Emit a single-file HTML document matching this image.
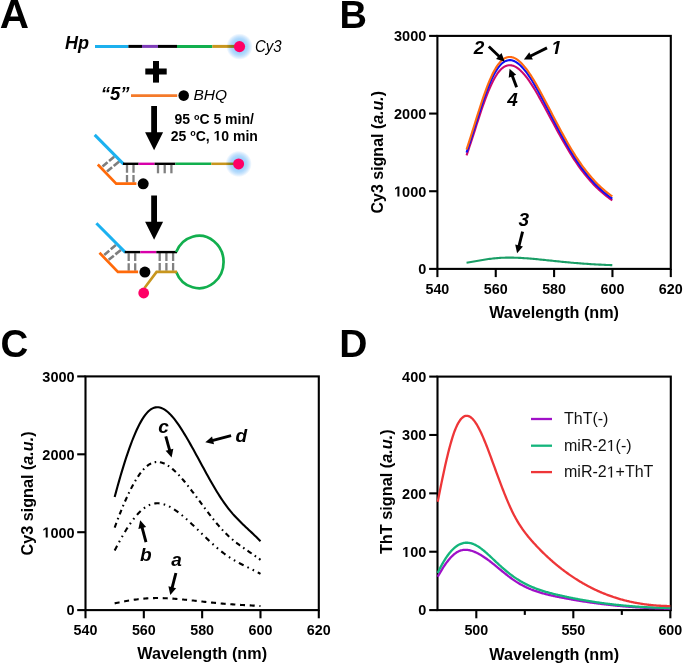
<!DOCTYPE html>
<html><head><meta charset="utf-8"><style>
html,body{margin:0;padding:0;background:#fff;}
body{width:685px;height:664px;overflow:hidden;}
svg{display:block;font-family:"Liberation Sans", sans-serif;}
</style></head><body>
<svg width="685" height="664" viewBox="0 0 685 664">
<defs>
<radialGradient id="glow" cx="0.5" cy="0.5" r="0.5">
<stop offset="0" stop-color="#8CC6FF"/>
<stop offset="0.45" stop-color="#A0D1FC"/>
<stop offset="0.62" stop-color="#B0D9FC"/>
<stop offset="0.78" stop-color="#CDE6FD"/>
<stop offset="0.9" stop-color="#E8F3FE"/>
<stop offset="1" stop-color="#FFFFFF"/>
</radialGradient>
</defs>
<rect width="685" height="664" fill="#fff"/>
<text x="-0.3" y="27.8" font-size="40.5" font-weight="bold">A</text>
<text x="65" y="49.3" font-size="18" font-weight="bold" font-style="italic">Hp</text>
<line x1="95" y1="46.4" x2="128.4" y2="46.4" stroke="#1CB0EE" stroke-width="3"/>
<line x1="128.4" y1="46.4" x2="142" y2="46.4" stroke="#000" stroke-width="3"/>
<line x1="142" y1="46.4" x2="158" y2="46.4" stroke="#7D3CB8" stroke-width="3"/>
<line x1="158" y1="46.4" x2="177" y2="46.4" stroke="#000" stroke-width="3"/>
<line x1="177" y1="46.4" x2="212.3" y2="46.4" stroke="#12AF4E" stroke-width="3"/>
<line x1="212.3" y1="46.4" x2="236" y2="46.4" stroke="#C8961E" stroke-width="3"/>
<circle cx="239.5" cy="46.6" r="13.2" fill="url(#glow)" style="mix-blend-mode:multiply"/>
<circle cx="239.5" cy="46.6" r="5.6" fill="#FF0066"/>
<text x="254.9" y="51.7" font-size="16" font-style="italic" textLength="26.6" lengthAdjust="spacingAndGlyphs">Cy3</text>
<rect x="145.3" y="68.5" width="21.4" height="6" fill="#000"/>
<rect x="153" y="61" width="6" height="21.6" fill="#000"/>
<text x="100.8" y="100.3" font-size="18.5" font-weight="bold" font-style="italic">“5”</text>
<line x1="131" y1="95.6" x2="177.2" y2="95.6" stroke="#F47A2A" stroke-width="2.6"/>
<circle cx="183.7" cy="95.6" r="5.3" fill="#000"/>
<text x="193.5" y="99.6" font-size="15.5" font-style="italic">BHQ</text>
<path d="M151.2,106 L157.0,106 L157.0,132.2 L163.1,132.2 L154.1,150.2 L145.1,132.2 L151.2,132.2 Z" fill="#000"/>
<path d="M151.2,195.6 L157.0,195.6 L157.0,221.8 L163.1,221.8 L154.1,239.8 L145.1,221.8 L151.2,221.8 Z" fill="#000"/>
<text font-size="14" font-weight="bold" text-anchor="middle"><tspan x="214.2" y="124.1">95 <tspan font-size="9" dy="-4.3">o</tspan><tspan dy="4.3">C 5 min/</tspan></tspan></text>
<text font-size="14" font-weight="bold" text-anchor="middle"><tspan x="214.3" y="140.6">25 <tspan font-size="9" dy="-4.3">o</tspan><tspan dy="4.3">C, <tspan class="one" fill="transparent">1</tspan>0 min</tspan></tspan></text>
<g transform="translate(0,0)"><line x1="102.5" y1="166.6" x2="114.2" y2="156.7" stroke="#7E7E7E" stroke-width="2.6" stroke-dasharray="6.6 2 8"/><line x1="107" y1="171.5" x2="119.2" y2="161.6" stroke="#7E7E7E" stroke-width="2.6" stroke-dasharray="6.6 2 8"/><line x1="127" y1="164.9" x2="127" y2="182.4" stroke="#808080" stroke-width="2.3" stroke-dasharray="7.8 2.2 9"/><line x1="133.5" y1="164.9" x2="133.5" y2="182.4" stroke="#808080" stroke-width="2.3" stroke-dasharray="7.8 2.2 9"/><line x1="94.7" y1="134.9" x2="123.6" y2="164.1" stroke="#1BB1F0" stroke-width="3"/><line x1="123" y1="163.8" x2="138.6" y2="163.8" stroke="#000" stroke-width="2.4"/><line x1="138.6" y1="163.8" x2="154.6" y2="163.8" stroke="#D800AA" stroke-width="2.4"/><polyline points="97.8,164.5 116.2,183.6 136.4,183.6" fill="none" stroke="#FF6A0A" stroke-width="2.7"/><circle cx="143.2" cy="183.8" r="5.5" fill="#000"/></g>
<line x1="154.6" y1="163.8" x2="175.4" y2="163.8" stroke="#000" stroke-width="2.4"/>
<line x1="158" y1="164.9" x2="158" y2="173.3" stroke="#808080" stroke-width="2.3"/>
<line x1="164.7" y1="164.9" x2="164.7" y2="173.3" stroke="#808080" stroke-width="2.3"/>
<line x1="171.4" y1="164.9" x2="171.4" y2="173.3" stroke="#808080" stroke-width="2.3"/>
<line x1="175.4" y1="163.8" x2="211.3" y2="163.8" stroke="#12AF4E" stroke-width="2.5"/>
<line x1="211.3" y1="163.8" x2="235" y2="163.8" stroke="#C8961E" stroke-width="2.5"/>
<circle cx="238.6" cy="163.9" r="13.2" fill="url(#glow)" style="mix-blend-mode:multiply"/>
<circle cx="238.6" cy="163.9" r="5.5" fill="#FF0066"/>
<g transform="translate(1.7,88.3)"><line x1="102.5" y1="166.6" x2="114.2" y2="156.7" stroke="#7E7E7E" stroke-width="2.6" stroke-dasharray="6.6 2 8"/><line x1="107" y1="171.5" x2="119.2" y2="161.6" stroke="#7E7E7E" stroke-width="2.6" stroke-dasharray="6.6 2 8"/><line x1="127" y1="164.9" x2="127" y2="182.4" stroke="#808080" stroke-width="2.3" stroke-dasharray="7.8 2.2 9"/><line x1="133.5" y1="164.9" x2="133.5" y2="182.4" stroke="#808080" stroke-width="2.3" stroke-dasharray="7.8 2.2 9"/><line x1="94.7" y1="134.9" x2="123.6" y2="164.1" stroke="#1BB1F0" stroke-width="3"/><line x1="123" y1="163.8" x2="138.6" y2="163.8" stroke="#000" stroke-width="2.4"/><line x1="138.6" y1="163.8" x2="154.6" y2="163.8" stroke="#D800AA" stroke-width="2.4"/><polyline points="97.8,164.5 116.2,183.6 136.4,183.6" fill="none" stroke="#FF6A0A" stroke-width="2.7"/><circle cx="143.2" cy="183.8" r="5.5" fill="#000"/></g>
<line x1="159.7" y1="253.1" x2="159.7" y2="270.8" stroke="#808080" stroke-width="2.3" stroke-dasharray="7.9 2.1 9"/>
<line x1="166.4" y1="253.1" x2="166.4" y2="270.8" stroke="#808080" stroke-width="2.3" stroke-dasharray="7.9 2.1 9"/>
<line x1="173.1" y1="253.1" x2="173.1" y2="270.8" stroke="#808080" stroke-width="2.3" stroke-dasharray="7.9 2.1 9"/>
<line x1="156.3" y1="252.1" x2="177" y2="252.1" stroke="#000" stroke-width="2.4"/>
<path d="M176.2,252.1 A24.6,26.2 0 1,1 176.2,271.9" fill="none" stroke="#12AF4E" stroke-width="2.7"/>
<polyline points="177,271.9 156.6,271.9 144.5,288" fill="none" stroke="#C8961E" stroke-width="2.6"/>
<circle cx="143.7" cy="293" r="5.4" fill="#FF0066"/>
<text x="339.5" y="27.6" font-size="38" font-weight="bold">B</text>
<rect x="437.4" y="35.9" width="233.4" height="233" fill="none" stroke="#000" stroke-width="2.1"/><line x1="429.1" y1="268.9" x2="437.4" y2="268.9" stroke="#000" stroke-width="2.1"/><line x1="429.1" y1="191.23" x2="437.4" y2="191.23" stroke="#000" stroke-width="2.1"/><line x1="429.1" y1="113.57" x2="437.4" y2="113.57" stroke="#000" stroke-width="2.1"/><line x1="429.1" y1="35.9" x2="437.4" y2="35.9" stroke="#000" stroke-width="2.1"/><line x1="437.4" y1="268.9" x2="437.4" y2="277.1" stroke="#000" stroke-width="2.1"/><line x1="495.75" y1="268.9" x2="495.75" y2="277.1" stroke="#000" stroke-width="2.1"/><line x1="554.1" y1="268.9" x2="554.1" y2="277.1" stroke="#000" stroke-width="2.1"/><line x1="612.45" y1="268.9" x2="612.45" y2="277.1" stroke="#000" stroke-width="2.1"/><line x1="670.8" y1="268.9" x2="670.8" y2="277.1" stroke="#000" stroke-width="2.1"/>
<text x="426.3" y="274.2" font-size="14.5" font-weight="bold" text-anchor="end">0</text><text x="426.3" y="196.53" font-size="14.5" font-weight="bold" text-anchor="end"><tspan class="one" fill="transparent">1</tspan>000</text><text x="426.3" y="118.87" font-size="14.5" font-weight="bold" text-anchor="end">2000</text><text x="426.3" y="41.2" font-size="14.5" font-weight="bold" text-anchor="end">3000</text>
<text x="437.4" y="294.2" font-size="14.3" font-weight="bold" text-anchor="middle">540</text><text x="495.75" y="294.2" font-size="14.3" font-weight="bold" text-anchor="middle">560</text><text x="554.1" y="294.2" font-size="14.3" font-weight="bold" text-anchor="middle">580</text><text x="612.45" y="294.2" font-size="14.3" font-weight="bold" text-anchor="middle">600</text><text x="670.8" y="294.2" font-size="14.3" font-weight="bold" text-anchor="middle">620</text>
<text x="554.1" y="318.3" font-size="16.2" font-weight="bold" text-anchor="middle">Wavelength (nm)</text>
<text transform="translate(382.7,152.2) rotate(-90)" font-size="16" font-weight="bold" text-anchor="middle">Cy3 signal (<tspan font-style="italic">a.u.</tspan>)</text>
<path d="M466.55,262.68L468.01,262.44L469.46,262.2L470.92,261.96L472.38,261.71L473.84,261.45L475.29,261.2L476.75,260.95L478.21,260.7L479.67,260.45L481.12,260.2L482.58,259.96L484.04,259.73L485.5,259.51L486.95,259.29L488.41,259.08L489.87,258.89L491.33,258.71L492.78,258.54L494.24,258.38L495.7,258.24L497.16,258.11L498.62,258L500.07,257.9L501.53,257.82L502.99,257.75L504.44,257.69L505.9,257.65L507.36,257.63L508.82,257.61L510.27,257.61L511.73,257.62L513.19,257.65L514.65,257.68L516.11,257.72L517.56,257.78L519.02,257.84L520.48,257.91L521.93,257.99L523.39,258.08L524.85,258.18L526.31,258.28L527.76,258.39L529.22,258.51L530.68,258.63L532.14,258.76L533.6,258.89L535.05,259.02L536.51,259.16L537.97,259.3L539.42,259.45L540.88,259.6L542.34,259.75L543.8,259.9L545.25,260.05L546.71,260.2L548.17,260.35L549.63,260.51L551.09,260.66L552.54,260.81L554,260.96L555.46,261.11L556.91,261.26L558.37,261.41L559.83,261.56L561.29,261.71L562.75,261.85L564.2,262L565.66,262.14L567.12,262.27L568.58,262.41L570.03,262.54L571.49,262.68L572.95,262.8L574.4,262.93L575.86,263.05L577.32,263.17L578.78,263.29L580.24,263.4L581.69,263.51L583.15,263.62L584.61,263.72L586.06,263.82L587.52,263.92L588.98,264.01L590.44,264.1L591.89,264.19L593.35,264.28L594.81,264.36L596.27,264.44L597.72,264.52L599.18,264.6L600.64,264.67L602.1,264.74L603.55,264.81L605.01,264.87L606.47,264.94L607.93,265L609.38,265.06L610.84,265.11L612.3,265.16" fill="none" stroke="#1A9E66" stroke-width="2.1" stroke-linejoin="round"/>
<path d="M466.55,155.32L468.01,151.08L469.46,146.75L470.92,142.33L472.38,137.85L473.84,133.34L475.29,128.82L476.75,124.3L478.21,119.81L479.67,115.38L481.12,111.03L482.58,106.77L484.04,102.64L485.5,98.65L486.95,94.82L488.41,91.17L489.87,87.72L491.33,84.48L492.78,81.48L494.24,78.72L495.7,76.21L497.16,73.95L498.62,71.96L500.07,70.23L501.53,68.77L502.99,67.58L504.44,66.63L505.9,65.93L507.36,65.46L508.82,65.22L510.27,65.2L511.73,65.39L513.19,65.78L514.65,66.36L516.11,67.13L517.56,68.08L519.02,69.19L520.48,70.46L521.93,71.89L523.39,73.45L524.85,75.15L526.31,76.98L527.76,78.92L529.22,80.97L530.68,83.12L532.14,85.36L533.6,87.68L535.05,90.08L536.51,92.54L537.97,95.06L539.42,97.63L540.88,100.24L542.34,102.89L543.8,105.57L545.25,108.26L546.71,110.98L548.17,113.7L549.63,116.43L551.09,119.15L552.54,121.87L554,124.58L555.46,127.28L556.91,129.96L558.37,132.63L559.83,135.27L561.29,137.89L562.75,140.48L564.2,143.04L565.66,145.56L567.12,148.05L568.58,150.5L570.03,152.91L571.49,155.27L572.95,157.58L574.4,159.84L575.86,162.04L577.32,164.19L578.78,166.28L580.24,168.31L581.69,170.29L583.15,172.21L584.61,174.08L586.06,175.9L587.52,177.67L588.98,179.38L590.44,181.04L591.89,182.65L593.35,184.22L594.81,185.73L596.27,187.19L597.72,188.61L599.18,189.98L600.64,191.3L602.1,192.58L603.55,193.81L605.01,195L606.47,196.14L607.93,197.24L609.38,198.3L610.84,199.32L612.3,200.29" fill="none" stroke="#CC0A6E" stroke-width="2.1" stroke-linejoin="round"/>
<path d="M466.55,152.5L468.01,148.16L469.46,143.71L470.92,139.18L472.38,134.6L473.84,129.97L475.29,125.34L476.75,120.71L478.21,116.11L479.67,111.57L481.12,107.11L482.58,102.75L484.04,98.51L485.5,94.42L486.95,90.5L488.41,86.76L489.87,83.22L491.33,79.9L492.78,76.83L494.24,74L495.7,71.42L497.16,69.11L498.62,67.07L500.07,65.3L501.53,63.8L502.99,62.57L504.44,61.61L505.9,60.89L507.36,60.41L508.82,60.16L510.27,60.14L511.73,60.33L513.19,60.73L514.65,61.33L516.11,62.12L517.56,63.09L519.02,64.23L520.48,65.53L521.93,66.99L523.39,68.6L524.85,70.34L526.31,72.21L527.76,74.2L529.22,76.3L530.68,78.5L532.14,80.8L533.6,83.18L535.05,85.64L536.51,88.16L537.97,90.74L539.42,93.38L540.88,96.05L542.34,98.77L543.8,101.51L545.25,104.27L546.71,107.06L548.17,109.85L549.63,112.64L551.09,115.43L552.54,118.22L554,121L555.46,123.76L556.91,126.51L558.37,129.24L559.83,131.95L561.29,134.64L562.75,137.29L564.2,139.91L565.66,142.5L567.12,145.05L568.58,147.56L570.03,150.03L571.49,152.44L572.95,154.81L574.4,157.13L575.86,159.39L577.32,161.58L578.78,163.73L580.24,165.81L581.69,167.84L583.15,169.81L584.61,171.73L586.06,173.59L587.52,175.4L588.98,177.16L590.44,178.86L591.89,180.51L593.35,182.11L594.81,183.66L596.27,185.17L597.72,186.62L599.18,188.02L600.64,189.38L602.1,190.69L603.55,191.95L605.01,193.17L606.47,194.34L607.93,195.47L609.38,196.55L610.84,197.59L612.3,198.59" fill="none" stroke="#1010F5" stroke-width="2.1" stroke-linejoin="round"/>
<path d="M466.55,149.47L468.01,145.08L469.46,140.59L470.92,136.02L472.38,131.39L473.84,126.73L475.29,122.06L476.75,117.41L478.21,112.79L479.67,108.24L481.12,103.77L482.58,99.4L484.04,95.16L485.5,91.08L486.95,87.16L488.41,83.42L489.87,79.9L491.33,76.59L492.78,73.53L494.24,70.72L495.7,68.16L497.16,65.86L498.62,63.83L500.07,62.07L501.53,60.59L502.99,59.37L504.44,58.41L505.9,57.7L507.36,57.22L508.82,56.98L510.27,56.96L511.73,57.15L513.19,57.55L514.65,58.14L516.11,58.92L517.56,59.88L519.02,61.02L520.48,62.31L521.93,63.76L523.39,65.35L524.85,67.08L526.31,68.94L527.76,70.92L529.22,73.01L530.68,75.2L532.14,77.49L533.6,79.86L535.05,82.31L536.51,84.82L537.97,87.4L539.42,90.03L540.88,92.7L542.34,95.42L543.8,98.16L545.25,100.93L546.71,103.71L548.17,106.51L549.63,109.31L551.09,112.11L552.54,114.91L554,117.7L555.46,120.48L556.91,123.25L558.37,126L559.83,128.72L561.29,131.43L562.75,134.1L564.2,136.75L565.66,139.36L567.12,141.94L568.58,144.48L570.03,146.97L571.49,149.42L572.95,151.81L574.4,154.16L575.86,156.45L577.32,158.68L578.78,160.85L580.24,162.97L581.69,165.03L583.15,167.03L584.61,168.98L586.06,170.87L587.52,172.71L588.98,174.5L590.44,176.23L591.89,177.92L593.35,179.55L594.81,181.13L596.27,182.66L597.72,184.14L599.18,185.57L600.64,186.96L602.1,188.29L603.55,189.58L605.01,190.83L606.47,192.02L607.93,193.18L609.38,194.28L610.84,195.35L612.3,196.37" fill="none" stroke="#FF6A10" stroke-width="2.1" stroke-linejoin="round"/>
<text x="473.8" y="54" font-size="19" font-weight="bold" font-style="italic">2</text>
<text x="551.2" y="54" font-size="19" font-weight="bold" font-style="italic"><tspan class="one" fill="transparent">1</tspan></text>
<text x="507.3" y="106" font-size="19" font-weight="bold" font-style="italic">4</text>
<text x="518.6" y="225.8" font-size="19" font-weight="bold" font-style="italic">3</text>
<line x1="488.8" y1="46.5" x2="499.52" y2="56.68" stroke="#000" stroke-width="2.9"/><path d="M504.6,61.5 L496.04,58.89 L501.55,53.09 Z" fill="#000"/>
<line x1="547" y1="47.9" x2="530.17" y2="56.28" stroke="#000" stroke-width="2.9"/><path d="M523.9,59.4 L529.28,52.25 L532.84,59.42 Z" fill="#000"/>
<line x1="516.6" y1="87.2" x2="512.09" y2="75.34" stroke="#000" stroke-width="2.9"/><path d="M509.6,68.8 L516.18,74.85 L508.71,77.7 Z" fill="#000"/>
<line x1="522.6" y1="231.6" x2="518.82" y2="246.51" stroke="#000" stroke-width="2.9"/><path d="M517.1,253.3 L515.19,244.56 L522.94,246.53 Z" fill="#000"/>
<text x="0.6" y="357.3" font-size="38.5" font-weight="bold">C</text>
<rect x="85.5" y="376.4" width="233.3" height="233.7" fill="none" stroke="#000" stroke-width="2.1"/><line x1="77.2" y1="610.1" x2="85.5" y2="610.1" stroke="#000" stroke-width="2.1"/><line x1="77.2" y1="532.2" x2="85.5" y2="532.2" stroke="#000" stroke-width="2.1"/><line x1="77.2" y1="454.3" x2="85.5" y2="454.3" stroke="#000" stroke-width="2.1"/><line x1="77.2" y1="376.4" x2="85.5" y2="376.4" stroke="#000" stroke-width="2.1"/><line x1="85.5" y1="610.1" x2="85.5" y2="618.3" stroke="#000" stroke-width="2.1"/><line x1="143.82" y1="610.1" x2="143.82" y2="618.3" stroke="#000" stroke-width="2.1"/><line x1="202.15" y1="610.1" x2="202.15" y2="618.3" stroke="#000" stroke-width="2.1"/><line x1="260.48" y1="610.1" x2="260.48" y2="618.3" stroke="#000" stroke-width="2.1"/><line x1="318.8" y1="610.1" x2="318.8" y2="618.3" stroke="#000" stroke-width="2.1"/>
<text x="74.6" y="615.4" font-size="14.5" font-weight="bold" text-anchor="end">0</text><text x="74.6" y="537.5" font-size="14.5" font-weight="bold" text-anchor="end"><tspan class="one" fill="transparent">1</tspan>000</text><text x="74.6" y="459.6" font-size="14.5" font-weight="bold" text-anchor="end">2000</text><text x="74.6" y="381.7" font-size="14.5" font-weight="bold" text-anchor="end">3000</text>
<text x="85.5" y="635" font-size="14.3" font-weight="bold" text-anchor="middle">540</text><text x="143.82" y="635" font-size="14.3" font-weight="bold" text-anchor="middle">560</text><text x="202.15" y="635" font-size="14.3" font-weight="bold" text-anchor="middle">580</text><text x="260.48" y="635" font-size="14.3" font-weight="bold" text-anchor="middle">600</text><text x="318.8" y="635" font-size="14.3" font-weight="bold" text-anchor="middle">620</text>
<text x="202.15" y="658.7" font-size="16.2" font-weight="bold" text-anchor="middle">Wavelength (nm)</text>
<text transform="translate(33.2,493.5) rotate(-90)" font-size="16.2" font-weight="bold" text-anchor="middle">Cy3 signal (<tspan font-style="italic">a.u.</tspan>)</text>
<path d="M114.66,497.05L116.12,491.63L117.58,486.32L119.04,481.13L120.5,476.06L121.96,471.12L123.41,466.33L124.87,461.67L126.33,457.17L127.79,452.82L129.25,448.63L130.71,444.6L132.16,440.75L133.62,437.08L135.08,433.6L136.54,430.3L138,427.21L139.46,424.31L140.91,421.63L142.37,419.15L143.83,416.9L145.29,414.88L146.75,413.09L148.2,411.54L149.66,410.23L151.12,409.17L152.58,408.35L154.04,407.76L155.5,407.39L156.95,407.23L158.41,407.28L159.87,407.53L161.33,407.97L162.79,408.59L164.25,409.38L165.7,410.34L167.16,411.46L168.62,412.73L170.08,414.15L171.54,415.69L173,417.36L174.45,419.16L175.91,421.06L177.37,423.06L178.83,425.16L180.29,427.34L181.74,429.6L183.2,431.94L184.66,434.33L186.12,436.78L187.58,439.28L189.04,441.81L190.49,444.38L191.95,446.98L193.41,449.61L194.87,452.25L196.33,454.92L197.79,457.59L199.24,460.28L200.7,462.96L202.16,465.65L203.62,468.33L205.08,471L206.53,473.65L207.99,476.28L209.45,478.89L210.91,481.47L212.37,484.02L213.83,486.53L215.28,489L216.74,491.42L218.2,493.79L219.66,496.1L221.12,498.35L222.58,500.54L224.03,502.66L225.49,504.7L226.95,506.67L228.41,508.56L229.87,510.38L231.33,512.13L232.78,513.83L234.24,515.46L235.7,517.05L237.16,518.59L238.62,520.1L240.07,521.56L241.53,523L242.99,524.41L244.45,525.8L245.91,527.18L247.37,528.54L248.82,529.91L250.28,531.27L251.74,532.63L253.2,534.01L254.66,535.4L256.12,536.81L257.57,538.25L259.03,539.72L260.49,541.22" fill="none" stroke="#000" stroke-width="2.1"/>
<path d="M114.66,527.58L116.12,523.62L117.58,519.74L119.04,515.95L120.5,512.25L121.96,508.65L123.41,505.15L124.87,501.75L126.33,498.46L127.79,495.28L129.25,492.23L130.71,489.29L132.16,486.48L133.62,483.8L135.08,481.26L136.54,478.85L138,476.59L139.46,474.48L140.91,472.52L142.37,470.71L143.83,469.07L145.29,467.59L146.75,466.29L148.2,465.15L149.66,464.2L151.12,463.42L152.58,462.82L154.04,462.39L155.5,462.12L156.95,462.01L158.41,462.04L159.87,462.22L161.33,462.54L162.79,463L164.25,463.58L165.7,464.28L167.16,465.1L168.62,466.02L170.08,467.06L171.54,468.18L173,469.41L174.45,470.71L175.91,472.1L177.37,473.56L178.83,475.09L180.29,476.69L181.74,478.34L183.2,480.04L184.66,481.79L186.12,483.58L187.58,485.4L189.04,487.25L190.49,489.13L191.95,491.02L193.41,492.94L194.87,494.87L196.33,496.82L197.79,498.77L199.24,500.73L200.7,502.69L202.16,504.65L203.62,506.61L205.08,508.56L206.53,510.49L207.99,512.41L209.45,514.32L210.91,516.2L212.37,518.06L213.83,519.9L215.28,521.7L216.74,523.46L218.2,525.19L219.66,526.88L221.12,528.53L222.58,530.12L224.03,531.67L225.49,533.16L226.95,534.6L228.41,535.98L229.87,537.3L231.33,538.58L232.78,539.82L234.24,541.02L235.7,542.18L237.16,543.3L238.62,544.4L240.07,545.47L241.53,546.52L242.99,547.55L244.45,548.56L245.91,549.57L247.37,550.57L248.82,551.56L250.28,552.55L251.74,553.55L253.2,554.55L254.66,555.57L256.12,556.6L257.57,557.65L259.03,558.72L260.49,559.82" fill="none" stroke="#000" stroke-width="2.1" stroke-dasharray="5 3.7 1.6 3.7"/>
<path d="M114.66,550.57L116.12,547.71L117.58,544.91L119.04,542.18L120.5,539.51L121.96,536.91L123.41,534.39L124.87,531.93L126.33,529.56L127.79,527.27L129.25,525.06L130.71,522.95L132.16,520.92L133.62,518.99L135.08,517.15L136.54,515.42L138,513.78L139.46,512.26L140.91,510.85L142.37,509.54L143.83,508.36L145.29,507.29L146.75,506.35L148.2,505.53L149.66,504.85L151.12,504.29L152.58,503.85L154.04,503.54L155.5,503.35L156.95,503.26L158.41,503.29L159.87,503.42L161.33,503.65L162.79,503.98L164.25,504.4L165.7,504.9L167.16,505.49L168.62,506.16L170.08,506.91L171.54,507.72L173,508.6L174.45,509.55L175.91,510.55L177.37,511.6L178.83,512.71L180.29,513.86L181.74,515.05L183.2,516.28L184.66,517.54L186.12,518.83L187.58,520.14L189.04,521.48L190.49,522.83L191.95,524.2L193.41,525.58L194.87,526.98L196.33,528.38L197.79,529.79L199.24,531.2L200.7,532.61L202.16,534.03L203.62,535.44L205.08,536.84L206.53,538.24L207.99,539.63L209.45,541L210.91,542.36L212.37,543.7L213.83,545.03L215.28,546.33L216.74,547.6L218.2,548.85L219.66,550.07L221.12,551.25L222.58,552.4L224.03,553.52L225.49,554.6L226.95,555.63L228.41,556.63L229.87,557.58L231.33,558.51L232.78,559.4L234.24,560.26L235.7,561.1L237.16,561.91L238.62,562.7L240.07,563.47L241.53,564.23L242.99,564.97L244.45,565.71L245.91,566.43L247.37,567.15L248.82,567.87L250.28,568.58L251.74,569.3L253.2,570.03L254.66,570.76L256.12,571.5L257.57,572.26L259.03,573.03L260.49,573.83" fill="none" stroke="#000" stroke-width="2.1" stroke-dasharray="5.3 4.2 1.6 4.2 1.6 4.2"/>
<path d="M114.66,603.39L116.12,603.07L117.58,602.75L119.04,602.44L120.5,602.14L121.96,601.85L123.41,601.56L124.87,601.29L126.33,601.02L127.79,600.76L129.25,600.51L130.71,600.28L132.16,600.05L133.62,599.83L135.08,599.62L136.54,599.43L138,599.24L139.46,599.07L140.91,598.91L142.37,598.76L143.83,598.63L145.29,598.51L146.75,598.4L148.2,598.31L149.66,598.24L151.12,598.17L152.58,598.12L154.04,598.09L155.5,598.07L156.95,598.06L158.41,598.06L159.87,598.07L161.33,598.1L162.79,598.14L164.25,598.18L165.7,598.24L167.16,598.31L168.62,598.38L170.08,598.47L171.54,598.56L173,598.66L174.45,598.76L175.91,598.88L177.37,599L178.83,599.12L180.29,599.25L181.74,599.39L183.2,599.52L184.66,599.67L186.12,599.81L187.58,599.96L189.04,600.11L190.49,600.26L191.95,600.42L193.41,600.57L194.87,600.73L196.33,600.89L197.79,601.05L199.24,601.21L200.7,601.37L202.16,601.52L203.62,601.68L205.08,601.84L206.53,602L207.99,602.16L209.45,602.31L210.91,602.46L212.37,602.62L213.83,602.76L215.28,602.91L216.74,603.05L218.2,603.2L219.66,603.33L221.12,603.47L222.58,603.6L224.03,603.72L225.49,603.84L226.95,603.96L228.41,604.07L229.87,604.18L231.33,604.28L232.78,604.38L234.24,604.48L235.7,604.58L237.16,604.67L238.62,604.76L240.07,604.84L241.53,604.93L242.99,605.01L244.45,605.1L245.91,605.18L247.37,605.26L248.82,605.34L250.28,605.42L251.74,605.5L253.2,605.58L254.66,605.67L256.12,605.75L257.57,605.83L259.03,605.92L260.49,606.01" fill="none" stroke="#000" stroke-width="2.1" stroke-dasharray="5 4.7"/>
<text x="158.2" y="432.6" font-size="19" font-weight="bold" font-style="italic">c</text>
<text x="235.4" y="441.8" font-size="19" font-weight="bold" font-style="italic">d</text>
<text x="140" y="561.2" font-size="19" font-weight="bold" font-style="italic">b</text>
<text x="171.3" y="565.6" font-size="19" font-weight="bold" font-style="italic">a</text>
<line x1="165.8" y1="436.3" x2="169.74" y2="450.65" stroke="#000" stroke-width="2.9"/><path d="M171.6,457.4 L165.62,450.75 L173.34,448.63 Z" fill="#000"/>
<line x1="231.1" y1="435.6" x2="212.08" y2="440.54" stroke="#000" stroke-width="2.9"/><path d="M205.3,442.3 L212.04,436.42 L214.05,444.16 Z" fill="#000"/>
<line x1="146" y1="542.2" x2="141.99" y2="527.07" stroke="#000" stroke-width="2.9"/><path d="M140.2,520.3 L146.11,527.01 L138.38,529.06 Z" fill="#000"/>
<line x1="175.9" y1="573" x2="172.03" y2="588.12" stroke="#000" stroke-width="2.9"/><path d="M170.3,594.9 L168.41,586.16 L176.16,588.14 Z" fill="#000"/>
<text x="339.3" y="356.8" font-size="39" font-weight="bold">D</text>
<rect x="437.5" y="376.6" width="233.3" height="233.5" fill="none" stroke="#000" stroke-width="2.1"/><line x1="429.2" y1="610.1" x2="437.5" y2="610.1" stroke="#000" stroke-width="2.1"/><line x1="429.2" y1="551.73" x2="437.5" y2="551.73" stroke="#000" stroke-width="2.1"/><line x1="429.2" y1="493.35" x2="437.5" y2="493.35" stroke="#000" stroke-width="2.1"/><line x1="429.2" y1="434.98" x2="437.5" y2="434.98" stroke="#000" stroke-width="2.1"/><line x1="429.2" y1="376.6" x2="437.5" y2="376.6" stroke="#000" stroke-width="2.1"/><line x1="476.31" y1="610.1" x2="476.31" y2="618.3" stroke="#000" stroke-width="2.1"/><line x1="573.32" y1="610.1" x2="573.32" y2="618.3" stroke="#000" stroke-width="2.1"/><line x1="670.34" y1="610.1" x2="670.34" y2="618.3" stroke="#000" stroke-width="2.1"/><line x1="524.81" y1="610.1" x2="524.81" y2="614.9" stroke="#000" stroke-width="2.1"/><line x1="621.83" y1="610.1" x2="621.83" y2="614.9" stroke="#000" stroke-width="2.1"/>
<text x="426.3" y="615.4" font-size="14.5" font-weight="bold" text-anchor="end">0</text><text x="426.3" y="557.02" font-size="14.5" font-weight="bold" text-anchor="end"><tspan class="one" fill="transparent">1</tspan>00</text><text x="426.3" y="498.65" font-size="14.5" font-weight="bold" text-anchor="end">200</text><text x="426.3" y="440.28" font-size="14.5" font-weight="bold" text-anchor="end">300</text><text x="426.3" y="381.9" font-size="14.5" font-weight="bold" text-anchor="end">400</text>
<text x="476.31" y="635" font-size="14.3" font-weight="bold" text-anchor="middle">500</text><text x="573.32" y="635" font-size="14.3" font-weight="bold" text-anchor="middle">550</text><text x="670.34" y="635" font-size="14.3" font-weight="bold" text-anchor="middle">600</text>
<text x="554.15" y="659.5" font-size="16.2" font-weight="bold" text-anchor="middle">Wavelength (nm)</text>
<text transform="translate(392.2,491.7) rotate(-90)" font-size="16.3" font-weight="bold" text-anchor="middle">ThT signal (<tspan font-style="italic">a.u.</tspan>)</text>
<path d="M437.7,576.8L438.45,575.45L439.2,574.12L439.95,572.82L440.7,571.55L441.45,570.3L442.2,569.08L442.95,567.9L443.7,566.74L444.45,565.61L445.2,564.52L445.95,563.46L446.7,562.43L447.45,561.44L448.2,560.48L448.95,559.56L449.7,558.68L450.45,557.84L451.2,557.03L451.95,556.27L452.7,555.54L453.45,554.86L454.2,554.22L454.95,553.62L455.7,553.07L456.45,552.56L457.2,552.1L457.95,551.68L458.7,551.31L459.45,550.98L460.2,550.7L460.95,550.45L461.7,550.25L462.45,550.09L463.2,549.96L463.95,549.88L464.7,549.82L465.45,549.8L466.2,549.82L466.95,549.86L467.7,549.94L468.45,550.05L469.2,550.18L469.95,550.34L470.7,550.53L471.45,550.74L472.2,550.98L472.95,551.23L473.7,551.51L474.45,551.81L475.2,552.12L475.95,552.46L476.7,552.81L477.45,553.18L478.2,553.57L478.95,553.97L479.7,554.38L480.45,554.82L481.2,555.26L481.95,555.72L482.7,556.19L483.45,556.68L484.2,557.18L484.95,557.69L485.7,558.21L486.45,558.74L487.2,559.27L487.95,559.82L488.7,560.38L489.45,560.95L490.2,561.52L490.95,562.1L491.7,562.69L492.45,563.28L493.2,563.87L493.95,564.48L494.7,565.08L495.45,565.69L496.2,566.3L496.95,566.92L497.7,567.53L498.45,568.15L499.2,568.77L499.95,569.39L500.7,570.01L501.45,570.62L502.2,571.24L502.95,571.85L503.7,572.46L504.45,573.07L505.2,573.67L505.95,574.27L506.7,574.87L507.45,575.45L508.2,576.04L508.95,576.61L509.7,577.18L510.45,577.74L511.2,578.29L511.95,578.84L512.7,579.37L513.45,579.89L514.2,580.41L514.95,580.91L515.7,581.4L516.45,581.88L517.2,582.35L517.95,582.81L518.7,583.26L519.45,583.7L520.2,584.13L520.95,584.55L521.7,584.96L522.45,585.36L523.2,585.75L523.95,586.14L524.7,586.51L525.45,586.88L526.2,587.24L526.95,587.59L527.7,587.93L528.45,588.26L529.2,588.59L529.95,588.9L530.7,589.22L531.45,589.52L532.2,589.81L532.95,590.1L533.7,590.39L534.45,590.66L535.2,590.93L535.95,591.19L536.7,591.45L537.45,591.7L538.2,591.95L538.95,592.19L539.7,592.42L540.45,592.65L541.2,592.87L541.95,593.09L542.7,593.3L543.45,593.51L544.2,593.72L544.95,593.92L545.7,594.11L546.45,594.31L547.2,594.49L547.95,594.68L548.7,594.86L549.45,595.04L550.2,595.21L550.95,595.38L551.7,595.55L552.45,595.72L553.2,595.88L553.95,596.04L554.7,596.2L555.45,596.36L556.2,596.51L556.95,596.67L557.7,596.82L558.45,596.97L559.2,597.12L559.95,597.27L560.7,597.41L561.45,597.56L562.2,597.71L562.95,597.85L563.7,597.99L564.45,598.14L565.2,598.28L565.95,598.42L566.7,598.56L567.45,598.7L568.2,598.83L568.95,598.97L569.7,599.11L570.45,599.24L571.2,599.37L571.95,599.51L572.7,599.64L573.45,599.77L574.2,599.9L574.95,600.03L575.7,600.15L576.45,600.28L577.2,600.41L577.95,600.53L578.7,600.65L579.45,600.78L580.2,600.9L580.95,601.02L581.7,601.14L582.45,601.26L583.2,601.38L583.95,601.49L584.7,601.61L585.45,601.72L586.2,601.84L586.95,601.95L587.7,602.06L588.45,602.17L589.2,602.28L589.95,602.39L590.7,602.5L591.45,602.61L592.2,602.71L592.95,602.82L593.7,602.92L594.45,603.03L595.2,603.13L595.95,603.23L596.7,603.33L597.45,603.43L598.2,603.53L598.95,603.63L599.7,603.72L600.45,603.82L601.2,603.91L601.95,604.01L602.7,604.1L603.45,604.19L604.2,604.28L604.95,604.37L605.7,604.46L606.45,604.55L607.2,604.63L607.95,604.72L608.7,604.8L609.45,604.89L610.2,604.97L610.95,605.05L611.7,605.13L612.45,605.21L613.2,605.29L613.95,605.37L614.7,605.45L615.45,605.53L616.2,605.6L616.95,605.68L617.7,605.75L618.45,605.82L619.2,605.89L619.95,605.96L620.7,606.03L621.45,606.1L622.2,606.17L622.95,606.24L623.7,606.3L624.45,606.37L625.2,606.43L625.95,606.5L626.7,606.56L627.45,606.62L628.2,606.68L628.95,606.74L629.7,606.8L630.45,606.85L631.2,606.91L631.95,606.97L632.7,607.02L633.45,607.08L634.2,607.13L634.95,607.18L635.7,607.23L636.45,607.28L637.2,607.33L637.95,607.38L638.7,607.43L639.45,607.47L640.2,607.52L640.95,607.56L641.7,607.6L642.45,607.65L643.2,607.69L643.95,607.73L644.7,607.77L645.45,607.81L646.2,607.85L646.95,607.88L647.7,607.92L648.45,607.95L649.2,607.99L649.95,608.02L650.7,608.05L651.45,608.09L652.2,608.12L652.95,608.15L653.7,608.17L654.45,608.2L655.2,608.23L655.95,608.26L656.7,608.28L657.45,608.3L658.2,608.33L658.95,608.35L659.7,608.37L660.45,608.39L661.2,608.41L661.95,608.43L662.7,608.45L663.45,608.46L664.2,608.48L664.95,608.5L665.7,608.51L666.45,608.52L667.2,608.54L667.95,608.55L668.7,608.56L669.45,608.57L670.2,608.58L670.3,608.58" fill="none" stroke="#A010C8" stroke-width="2.3"/>
<path d="M437.7,572.95L438.45,571.37L439.2,569.84L439.95,568.35L440.7,566.9L441.45,565.5L442.2,564.13L442.95,562.81L443.7,561.53L444.45,560.29L445.2,559.1L445.95,557.95L446.7,556.84L447.45,555.77L448.2,554.74L448.95,553.76L449.7,552.82L450.45,551.92L451.2,551.07L451.95,550.25L452.7,549.48L453.45,548.75L454.2,548.07L454.95,547.42L455.7,546.82L456.45,546.27L457.2,545.75L457.95,545.28L458.7,544.85L459.45,544.46L460.2,544.11L460.95,543.8L461.7,543.54L462.45,543.31L463.2,543.12L463.95,542.97L464.7,542.85L465.45,542.77L466.2,542.73L466.95,542.73L467.7,542.76L468.45,542.83L469.2,542.93L469.95,543.06L470.7,543.23L471.45,543.43L472.2,543.66L472.95,543.92L473.7,544.21L474.45,544.54L475.2,544.89L475.95,545.27L476.7,545.68L477.45,546.12L478.2,546.58L478.95,547.06L479.7,547.57L480.45,548.1L481.2,548.64L481.95,549.21L482.7,549.79L483.45,550.4L484.2,551.01L484.95,551.64L485.7,552.29L486.45,552.95L487.2,553.61L487.95,554.29L488.7,554.98L489.45,555.67L490.2,556.37L490.95,557.07L491.7,557.78L492.45,558.49L493.2,559.21L493.95,559.92L494.7,560.63L495.45,561.34L496.2,562.05L496.95,562.76L497.7,563.46L498.45,564.15L499.2,564.84L499.95,565.52L500.7,566.2L501.45,566.87L502.2,567.53L502.95,568.19L503.7,568.84L504.45,569.49L505.2,570.12L505.95,570.75L506.7,571.37L507.45,571.99L508.2,572.59L508.95,573.19L509.7,573.78L510.45,574.35L511.2,574.92L511.95,575.48L512.7,576.03L513.45,576.57L514.2,577.1L514.95,577.62L515.7,578.13L516.45,578.62L517.2,579.11L517.95,579.59L518.7,580.06L519.45,580.52L520.2,580.97L520.95,581.41L521.7,581.84L522.45,582.26L523.2,582.68L523.95,583.08L524.7,583.48L525.45,583.87L526.2,584.25L526.95,584.62L527.7,584.99L528.45,585.34L529.2,585.69L529.95,586.03L530.7,586.37L531.45,586.7L532.2,587.02L532.95,587.33L533.7,587.64L534.45,587.94L535.2,588.23L535.95,588.52L536.7,588.8L537.45,589.08L538.2,589.35L538.95,589.62L539.7,589.88L540.45,590.13L541.2,590.38L541.95,590.63L542.7,590.87L543.45,591.1L544.2,591.33L544.95,591.56L545.7,591.78L546.45,592L547.2,592.21L547.95,592.42L548.7,592.63L549.45,592.83L550.2,593.03L550.95,593.23L551.7,593.42L552.45,593.61L553.2,593.8L553.95,593.99L554.7,594.17L555.45,594.35L556.2,594.53L556.95,594.71L557.7,594.89L558.45,595.06L559.2,595.23L559.95,595.4L560.7,595.57L561.45,595.74L562.2,595.91L562.95,596.08L563.7,596.24L564.45,596.4L565.2,596.57L565.95,596.73L566.7,596.89L567.45,597.05L568.2,597.2L568.95,597.36L569.7,597.51L570.45,597.67L571.2,597.82L571.95,597.97L572.7,598.12L573.45,598.27L574.2,598.42L574.95,598.56L575.7,598.71L576.45,598.85L577.2,598.99L577.95,599.13L578.7,599.27L579.45,599.41L580.2,599.55L580.95,599.69L581.7,599.82L582.45,599.96L583.2,600.09L583.95,600.22L584.7,600.35L585.45,600.48L586.2,600.61L586.95,600.73L587.7,600.86L588.45,600.98L589.2,601.11L589.95,601.23L590.7,601.35L591.45,601.47L592.2,601.59L592.95,601.7L593.7,601.82L594.45,601.94L595.2,602.05L595.95,602.16L596.7,602.27L597.45,602.38L598.2,602.49L598.95,602.6L599.7,602.71L600.45,602.81L601.2,602.92L601.95,603.02L602.7,603.12L603.45,603.22L604.2,603.32L604.95,603.42L605.7,603.52L606.45,603.62L607.2,603.71L607.95,603.81L608.7,603.9L609.45,603.99L610.2,604.08L610.95,604.17L611.7,604.26L612.45,604.35L613.2,604.44L613.95,604.52L614.7,604.61L615.45,604.69L616.2,604.77L616.95,604.85L617.7,604.93L618.45,605.01L619.2,605.09L619.95,605.17L620.7,605.24L621.45,605.32L622.2,605.39L622.95,605.46L623.7,605.54L624.45,605.61L625.2,605.68L625.95,605.74L626.7,605.81L627.45,605.88L628.2,605.94L628.95,606.01L629.7,606.07L630.45,606.13L631.2,606.19L631.95,606.25L632.7,606.31L633.45,606.37L634.2,606.43L634.95,606.48L635.7,606.54L636.45,606.59L637.2,606.64L637.95,606.7L638.7,606.75L639.45,606.8L640.2,606.85L640.95,606.89L641.7,606.94L642.45,606.99L643.2,607.03L643.95,607.07L644.7,607.12L645.45,607.16L646.2,607.2L646.95,607.24L647.7,607.28L648.45,607.32L649.2,607.35L649.95,607.39L650.7,607.42L651.45,607.46L652.2,607.49L652.95,607.52L653.7,607.55L654.45,607.59L655.2,607.61L655.95,607.64L656.7,607.67L657.45,607.7L658.2,607.72L658.95,607.75L659.7,607.77L660.45,607.79L661.2,607.81L661.95,607.84L662.7,607.86L663.45,607.87L664.2,607.89L664.95,607.91L665.7,607.93L666.45,607.94L667.2,607.96L667.95,607.97L668.7,607.98L669.45,607.99L670.2,608L670.3,608.01" fill="none" stroke="#14B57C" stroke-width="2.3"/>
<path d="M437.7,501.69L438.45,497.93L439.2,494.19L439.95,490.47L440.7,486.79L441.45,483.13L442.2,479.52L442.95,475.96L443.7,472.45L444.45,469L445.2,465.61L445.95,462.3L446.7,459.06L447.45,455.91L448.2,452.84L448.95,449.87L449.7,447L450.45,444.24L451.2,441.59L451.95,439.06L452.7,436.66L453.45,434.38L454.2,432.24L454.95,430.24L455.7,428.38L456.45,426.66L457.2,425.07L457.95,423.62L458.7,422.29L459.45,421.1L460.2,420.03L460.95,419.09L461.7,418.27L462.45,417.57L463.2,416.99L463.95,416.52L464.7,416.17L465.45,415.93L466.2,415.81L466.95,415.79L467.7,415.88L468.45,416.07L469.2,416.36L469.95,416.76L470.7,417.25L471.45,417.84L472.2,418.52L472.95,419.3L473.7,420.16L474.45,421.11L475.2,422.15L475.95,423.27L476.7,424.46L477.45,425.73L478.2,427.07L478.95,428.48L479.7,429.95L480.45,431.48L481.2,433.07L481.95,434.71L482.7,436.41L483.45,438.15L484.2,439.93L484.95,441.76L485.7,443.63L486.45,445.52L487.2,447.45L487.95,449.41L488.7,451.39L489.45,453.39L490.2,455.41L490.95,457.44L491.7,459.48L492.45,461.53L493.2,463.58L493.95,465.63L494.7,467.69L495.45,469.74L496.2,471.79L496.95,473.83L497.7,475.86L498.45,477.89L499.2,479.9L499.95,481.91L500.7,483.89L501.45,485.87L502.2,487.82L502.95,489.76L503.7,491.68L504.45,493.57L505.2,495.44L505.95,497.29L506.7,499.1L507.45,500.89L508.2,502.65L508.95,504.37L509.7,506.06L510.45,507.72L511.2,509.34L511.95,510.92L512.7,512.46L513.45,513.95L514.2,515.41L514.95,516.82L515.7,518.2L516.45,519.54L517.2,520.84L517.95,522.11L518.7,523.35L519.45,524.55L520.2,525.72L520.95,526.86L521.7,527.98L522.45,529.06L523.2,530.12L523.95,531.16L524.7,532.17L525.45,533.16L526.2,534.13L526.95,535.08L527.7,536.01L528.45,536.92L529.2,537.82L529.95,538.7L530.7,539.57L531.45,540.43L532.2,541.28L532.95,542.12L533.7,542.94L534.45,543.76L535.2,544.58L535.95,545.39L536.7,546.18L537.45,546.98L538.2,547.76L538.95,548.54L539.7,549.31L540.45,550.07L541.2,550.83L541.95,551.58L542.7,552.32L543.45,553.06L544.2,553.78L544.95,554.51L545.7,555.22L546.45,555.93L547.2,556.63L547.95,557.33L548.7,558.02L549.45,558.7L550.2,559.38L550.95,560.05L551.7,560.71L552.45,561.37L553.2,562.02L553.95,562.66L554.7,563.3L555.45,563.93L556.2,564.56L556.95,565.18L557.7,565.79L558.45,566.4L559.2,567L559.95,567.6L560.7,568.19L561.45,568.78L562.2,569.36L562.95,569.93L563.7,570.5L564.45,571.06L565.2,571.62L565.95,572.17L566.7,572.72L567.45,573.26L568.2,573.79L568.95,574.32L569.7,574.85L570.45,575.37L571.2,575.88L571.95,576.39L572.7,576.9L573.45,577.4L574.2,577.89L574.95,578.38L575.7,578.86L576.45,579.34L577.2,579.81L577.95,580.28L578.7,580.74L579.45,581.2L580.2,581.66L580.95,582.1L581.7,582.55L582.45,582.99L583.2,583.42L583.95,583.85L584.7,584.27L585.45,584.69L586.2,585.1L586.95,585.51L587.7,585.92L588.45,586.32L589.2,586.71L589.95,587.1L590.7,587.49L591.45,587.87L592.2,588.24L592.95,588.61L593.7,588.98L594.45,589.34L595.2,589.7L595.95,590.05L596.7,590.4L597.45,590.75L598.2,591.09L598.95,591.42L599.7,591.75L600.45,592.08L601.2,592.4L601.95,592.72L602.7,593.03L603.45,593.34L604.2,593.64L604.95,593.94L605.7,594.24L606.45,594.53L607.2,594.82L607.95,595.1L608.7,595.38L609.45,595.66L610.2,595.93L610.95,596.19L611.7,596.45L612.45,596.71L613.2,596.97L613.95,597.22L614.7,597.46L615.45,597.71L616.2,597.95L616.95,598.18L617.7,598.41L618.45,598.64L619.2,598.86L619.95,599.08L620.7,599.29L621.45,599.5L622.2,599.71L622.95,599.92L623.7,600.12L624.45,600.31L625.2,600.5L625.95,600.69L626.7,600.88L627.45,601.06L628.2,601.24L628.95,601.41L629.7,601.58L630.45,601.75L631.2,601.91L631.95,602.07L632.7,602.23L633.45,602.38L634.2,602.53L634.95,602.68L635.7,602.82L636.45,602.96L637.2,603.1L637.95,603.23L638.7,603.36L639.45,603.49L640.2,603.61L640.95,603.73L641.7,603.85L642.45,603.96L643.2,604.07L643.95,604.18L644.7,604.28L645.45,604.38L646.2,604.48L646.95,604.57L647.7,604.66L648.45,604.75L649.2,604.84L649.95,604.92L650.7,605L651.45,605.08L652.2,605.15L652.95,605.22L653.7,605.29L654.45,605.35L655.2,605.41L655.95,605.47L656.7,605.53L657.45,605.58L658.2,605.63L658.95,605.68L659.7,605.73L660.45,605.77L661.2,605.81L661.95,605.85L662.7,605.88L663.45,605.91L664.2,605.94L664.95,605.97L665.7,606L666.45,606.02L667.2,606.04L667.95,606.05L668.7,606.07L669.45,606.08L670.2,606.09L670.3,606.09" fill="none" stroke="#EE3638" stroke-width="2.3"/>
<line x1="531" y1="419" x2="552" y2="419" stroke="#A010C8" stroke-width="2.3"/>
<text x="564" y="424.3" font-size="16" fill="#111">ThT(-)</text>
<line x1="531" y1="445.7" x2="552" y2="445.7" stroke="#14B57C" stroke-width="2.3"/>
<text x="564" y="451" font-size="16" fill="#111">miR-2<tspan class="one" fill="transparent">1</tspan>(-)</text>
<line x1="531" y1="472.1" x2="552" y2="472.1" stroke="#EE3638" stroke-width="2.3"/>
<text x="564" y="477.4" font-size="16" fill="#111">miR-2<tspan class="one" fill="transparent">1</tspan>+ThT</text>
<path d="M478,0L478,1170L140,959L140,1180L493,1409L759,1409L759,0Z" transform="translate(213.54,140.60) scale(0.006836,-0.006836)" fill="#000"/>
<path d="M478,0L478,1170L140,959L140,1180L493,1409L759,1409L759,0Z" transform="translate(394.02,196.53) scale(0.007080,-0.007080)" fill="#000"/>
<path d="M380,0L604,1152L223,938L270,1180L666,1409L936,1409L661,0Z" transform="translate(551.20,54.00) scale(0.009277,-0.009277)" fill="#000"/>
<path d="M478,0L478,1170L140,959L140,1180L493,1409L759,1409L759,0Z" transform="translate(42.32,537.50) scale(0.007080,-0.007080)" fill="#000"/>
<path d="M478,0L478,1170L140,959L140,1180L493,1409L759,1409L759,0Z" transform="translate(402.08,557.02) scale(0.007080,-0.007080)" fill="#000"/>
<path d="M515,0L515,1237L197,1010L197,1180L530,1409L696,1409L696,0Z" transform="translate(606.67,451.00) scale(0.007812,-0.007812)" fill="#111"/>
<path d="M515,0L515,1237L197,1010L197,1180L530,1409L696,1409L696,0Z" transform="translate(606.67,477.40) scale(0.007812,-0.007812)" fill="#111"/>
</svg>
</body></html>
